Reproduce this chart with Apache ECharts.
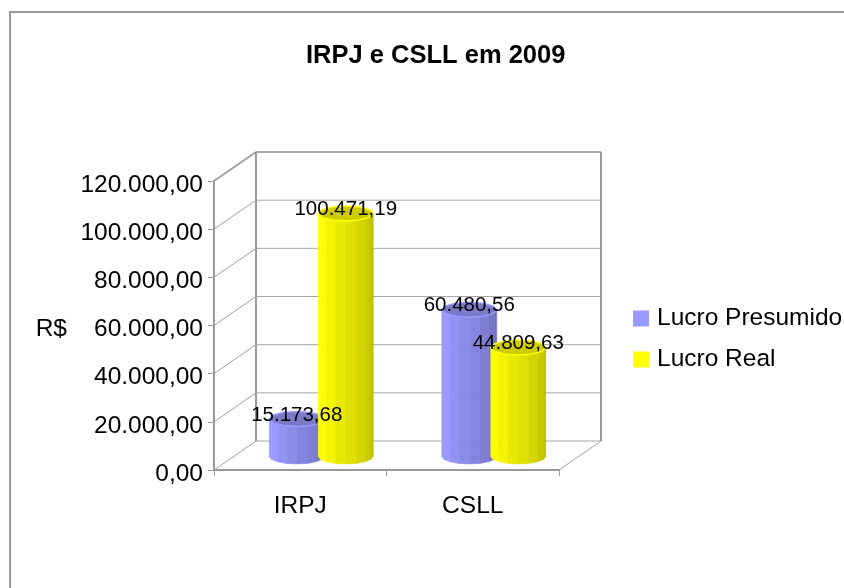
<!DOCTYPE html>
<html>
<head>
<meta charset="utf-8">
<title>IRPJ e CSLL em 2009</title>
<script src="https://cdn.jsdelivr.net/npm/echarts@6/dist/echarts.min.js"></script>
<style>
html, body { margin: 0; padding: 0; background: #fff; }
#chart { width: 844px; height: 588px; }
</style>
</head>
<body>
<div id="chart"></div>
<script>
var categories = ['IRPJ', 'CSLL'];
var lucroPresumido = [15173.68, 60480.56];
var lucroReal = [100471.19, 44809.63];
var yTicks = [0, 20000, 40000, 60000, 80000, 100000, 120000];

// deslocamento da perspectiva (parede do fundo)
var depthX = 42, depthY = -29;
var fontName = '"Liberation Sans", Arial, sans-serif';

var formatBR = function(val) {
    var parts = val.toFixed(2).split('.');
    return parts[0].replace(/\B(?=(\d{3})+$)/g, '.') + ',' + parts[1];
};

var mix = function(a, b, t) {
    var c = [];
    for (var i = 0; i < 3; i++) {
        c.push(Math.round(a[i] + (b[i] - a[i]) * t));
    }
    return 'rgb(' + c.join(',') + ')';
};

// cilindro facetado, centro no meio da profundidade
var cylinder = function(shift, light, dark, topColor, rim) {
    return function(params, api) {
        var top = api.coord([api.value(0), api.value(1)]);
        var base = api.coord([api.value(0), 0]);
        var cx = top[0] + depthX / 2 + shift;
        var topY = top[1] + depthY / 2;
        var baseY = base[1] + depthY / 2 + 1;
        var rx = 27.5, ry = 7.5, n = 8;
        var children = [];
        for (var i = 0; i < n; i++) {
            var a0 = Math.PI - Math.PI * i / n;
            var a1 = Math.PI - Math.PI * (i + 1) / n;
            var x0 = cx + rx * Math.cos(a0), x1 = cx + rx * Math.cos(a1);
            var s0 = ry * Math.sin(a0), s1 = ry * Math.sin(a1);
            var col = mix(light, dark, i < 2 ? 0 : (i - 1) / (n - 2));
            children.push({
                type: 'polygon',
                shape: { points: [[x0, topY + s0], [x1, topY + s1], [x1, baseY + s1], [x0, baseY + s0]] },
                style: { fill: col, stroke: col, lineWidth: 0.5 }
            });
        }
        var lid = [];
        for (var k = 0; k < 12; k++) {
            var a = Math.PI * 2 * k / 12;
            lid.push([cx + rx * Math.cos(a), topY + ry * Math.sin(a)]);
        }
        children.push({
            type: 'polygon',
            shape: { points: lid },
            style: { fill: topColor, stroke: rim, lineWidth: 1.5 }
        });
        return { type: 'group', children: children };
    };
};

var renderLabel = function(shift) {
    return function(params, api) {
        var top = api.coord([api.value(0), api.value(1)]);
        return {
            type: 'text',
            style: {
                x: top[0] + depthX / 2 + shift,
                y: top[1] + depthY / 2 - 4,
                text: formatBR(api.value(1)),
                fill: '#000',
                font: '20.5px ' + fontName,
                align: 'center',
                verticalAlign: 'middle'
            }
        };
    };
};

var renderWall = function(params, api) {
    var band = api.size([1, 0])[0];
    var p = api.coord([0, api.value(1)]);
    var left = [p[0] - band / 2, p[1]];
    var right = [p[0] + band * 1.5, p[1]];
    var topY = api.coord([0, yTicks[yTicks.length - 1]])[1];
    var isTop = api.value(1) === yTicks[yTicks.length - 1];
    var children = [{
        type: 'line',
        shape: { x1: left[0], y1: left[1], x2: left[0] + depthX, y2: left[1] + depthY },
        style: { stroke: '#a0a0a0', lineWidth: isTop ? 2 : 1 }
    }, {
        type: 'line',
        shape: { x1: left[0] + depthX, y1: left[1] + depthY, x2: right[0] + depthX, y2: right[1] + depthY },
        style: { stroke: '#a6a6a6', lineWidth: isTop ? 2 : 1 }
    }];
    if (api.value(1) === 0) {
        children.push({
            type: 'line',
            shape: { x1: right[0], y1: right[1], x2: right[0] + depthX, y2: right[1] + depthY },
            style: { stroke: '#a0a0a0', lineWidth: 1 }
        }, {
            type: 'line',
            shape: { x1: left[0] + depthX, y1: left[1] + depthY, x2: left[0] + depthX, y2: topY + depthY },
            style: { stroke: '#999', lineWidth: 2 }
        }, {
            type: 'line',
            shape: { x1: right[0] + depthX, y1: right[1] + depthY, x2: right[0] + depthX, y2: topY + depthY },
            style: { stroke: '#999', lineWidth: 2 }
        });
    }
    return { type: 'group', children: children };
};

var toPoints = function(values) {
    return values.map(function(v, i) {
        return [i, v];
    });
};

var myChart = echarts.init(document.getElementById('chart'));

myChart.setOption({
    backgroundColor: '#fff',
    animation: false,
    title: {
        text: 'IRPJ e CSLL em 2009',
        left: 301,
        top: 38,
        textStyle: { fontFamily: fontName, fontWeight: 'bold', fontSize: 25.5, color: '#000' }
    },
    graphic: [{
        type: 'polyline',
        shape: { points: [[10, 588], [10, 12], [844, 12]] },
        style: { stroke: '#999', lineWidth: 2, fill: 'none' }
    }],
    legend: {
        orient: 'vertical',
        left: 633,
        top: 306,
        padding: 0,
        itemWidth: 16,
        itemHeight: 16,
        itemGap: 16,
        icon: 'rect',
        data: ['Lucro Presumido', 'Lucro Real'],
        textStyle: { fontFamily: fontName, fontSize: 24.5, color: '#000', padding: [0, 0, 0, 3] }
    },
    grid: { left: 214, top: 181, width: 345, height: 289 },
    xAxis: {
        type: 'category',
        data: categories,
        axisLine: { lineStyle: { color: '#999', width: 2 } },
        axisTick: { show: true, length: 6, lineStyle: { color: '#999' } },
        axisLabel: { margin: 24, color: '#000', fontFamily: fontName, fontSize: 24.5 }
    },
    yAxis: {
        type: 'value',
        min: 0,
        max: 120000,
        interval: 20000,
        name: 'R$',
        nameLocation: 'middle',
        nameRotate: 0,
        nameGap: 147,
        nameTextStyle: { color: '#000', fontFamily: fontName, fontSize: 24.5, verticalAlign: 'top', lineHeight: 8 },
        splitLine: { show: false },
        axisLine: { show: true, lineStyle: { color: '#999', width: 2 } },
        axisTick: { show: true, length: 6, lineStyle: { color: '#999' } },
        axisLabel: {
            margin: 11,
            color: '#000',
            fontFamily: fontName,
            fontSize: 24.5,
            verticalAlign: 'top',
            lineHeight: 8,
            formatter: formatBR
        }
    },
    series: [{
        type: 'custom',
        z: 1,
        silent: true,
        data: toPoints(yTicks).map(function(d) { return [0, d[1]]; }),
        encode: { x: 0, y: 1 },
        renderItem: renderWall
    }, {
        name: 'Lucro Presumido',
        type: 'custom',
        z: 2,
        itemStyle: { color: '#9999ff' },
        data: toPoints(lucroPresumido),
        encode: { x: 0, y: 1 },
        renderItem: cylinder(-24.5, [153, 153, 255], [112, 112, 190], '#7a7ac6', '#9999ff')
    }, {
        name: 'Lucro Real',
        type: 'custom',
        z: 3,
        itemStyle: { color: '#ffff00' },
        data: toPoints(lucroReal),
        encode: { x: 0, y: 1 },
        renderItem: cylinder(24.5, [255, 255, 0], [190, 190, 0], '#cccc00', '#ffff00')
    }, {
        type: 'custom',
        z: 4,
        silent: true,
        data: toPoints(lucroPresumido),
        encode: { x: 0, y: 1 },
        renderItem: renderLabel(-24.5)
    }, {
        type: 'custom',
        z: 4,
        silent: true,
        data: toPoints(lucroReal),
        encode: { x: 0, y: 1 },
        renderItem: renderLabel(24.5)
    }]
});
</script>
</body>
</html>
